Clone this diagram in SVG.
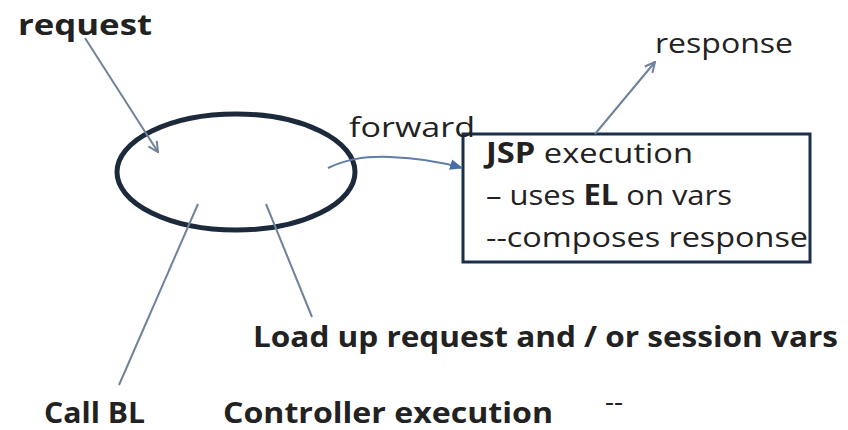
<svg xmlns="http://www.w3.org/2000/svg" width="848" height="430" viewBox="0 0 848 430">
<defs>
<style>
.t{font-family:"Open Sans","Noto Sans","Liberation Sans",sans-serif;fill:#222;font-size:28px}
.b{font-weight:bold}
.ln{fill:none;stroke:#6f829b;stroke-width:2}
</style>
<marker id="open" viewBox="0 0 12 12" refX="11" refY="6" markerWidth="12" markerHeight="12" markerUnits="userSpaceOnUse" orient="auto">
<path d="M1,1 L11,6 L1,11" fill="none" stroke="#6f829b" stroke-width="2"/>
</marker>
<marker id="fill" viewBox="0 0 12 12" refX="11" refY="6" markerWidth="13" markerHeight="13" markerUnits="userSpaceOnUse" orient="auto">
<path d="M0,1 L12,6 L0,11 Z" fill="#4a6fa5"/>
</marker>
</defs>
<rect width="848" height="430" fill="#ffffff"/>
<g id="controller">
<ellipse cx="236" cy="172" rx="119" ry="58" fill="none" stroke="#1c2a3c" stroke-width="5"/>
</g>
<g id="jsp">
<rect x="463" y="134" width="347" height="128" fill="#ffffff" stroke="#1c2f4a" stroke-width="3"/>
<text class="t" x="486" y="163" font-size="29" textLength="207" lengthAdjust="spacingAndGlyphs"><tspan class="b">JSP</tspan> execution</text>
<text class="t" x="486" y="205" font-size="29" textLength="246" lengthAdjust="spacingAndGlyphs">– uses <tspan class="b">EL</tspan> on vars</text>
<text class="t" x="486" y="247" font-size="29" textLength="322" lengthAdjust="spacingAndGlyphs">--composes response</text>
</g>
<g id="labels">
<text class="t b" x="18" y="35" font-size="35" textLength="134" lengthAdjust="spacingAndGlyphs">request</text>
<text class="t" x="655" y="53" font-size="34" textLength="138" lengthAdjust="spacingAndGlyphs">response</text>
<text class="t" x="349" y="137" font-size="31" textLength="126" lengthAdjust="spacingAndGlyphs" fill="#333">forward</text>
<text class="t b" x="253" y="347" textLength="585" lengthAdjust="spacingAndGlyphs">Load up request and / or session vars</text>
<text class="t b" x="44" y="423" textLength="101" lengthAdjust="spacingAndGlyphs">Call BL</text>
<text class="t b" x="223" y="423" textLength="330" lengthAdjust="spacingAndGlyphs">Controller execution</text>
<text class="t" x="605" y="411" font-size="12" fill="#555">--</text>
</g>
<g id="connectors">
<line class="ln" x1="85" y1="38" x2="158" y2="152" marker-end="url(#open)"/>
<path d="M328,168 C345,160 362,156 390,157 C420,158 445,163 462,168" fill="none" stroke="#5f7da6" stroke-width="2" marker-end="url(#fill)"/>
<line class="ln" x1="595" y1="134" x2="655" y2="62" marker-end="url(#open)"/>
<line class="ln" x1="198" y1="204" x2="119" y2="385"/>
<line class="ln" x1="266" y1="204" x2="312" y2="317"/>
</g>
</svg>
